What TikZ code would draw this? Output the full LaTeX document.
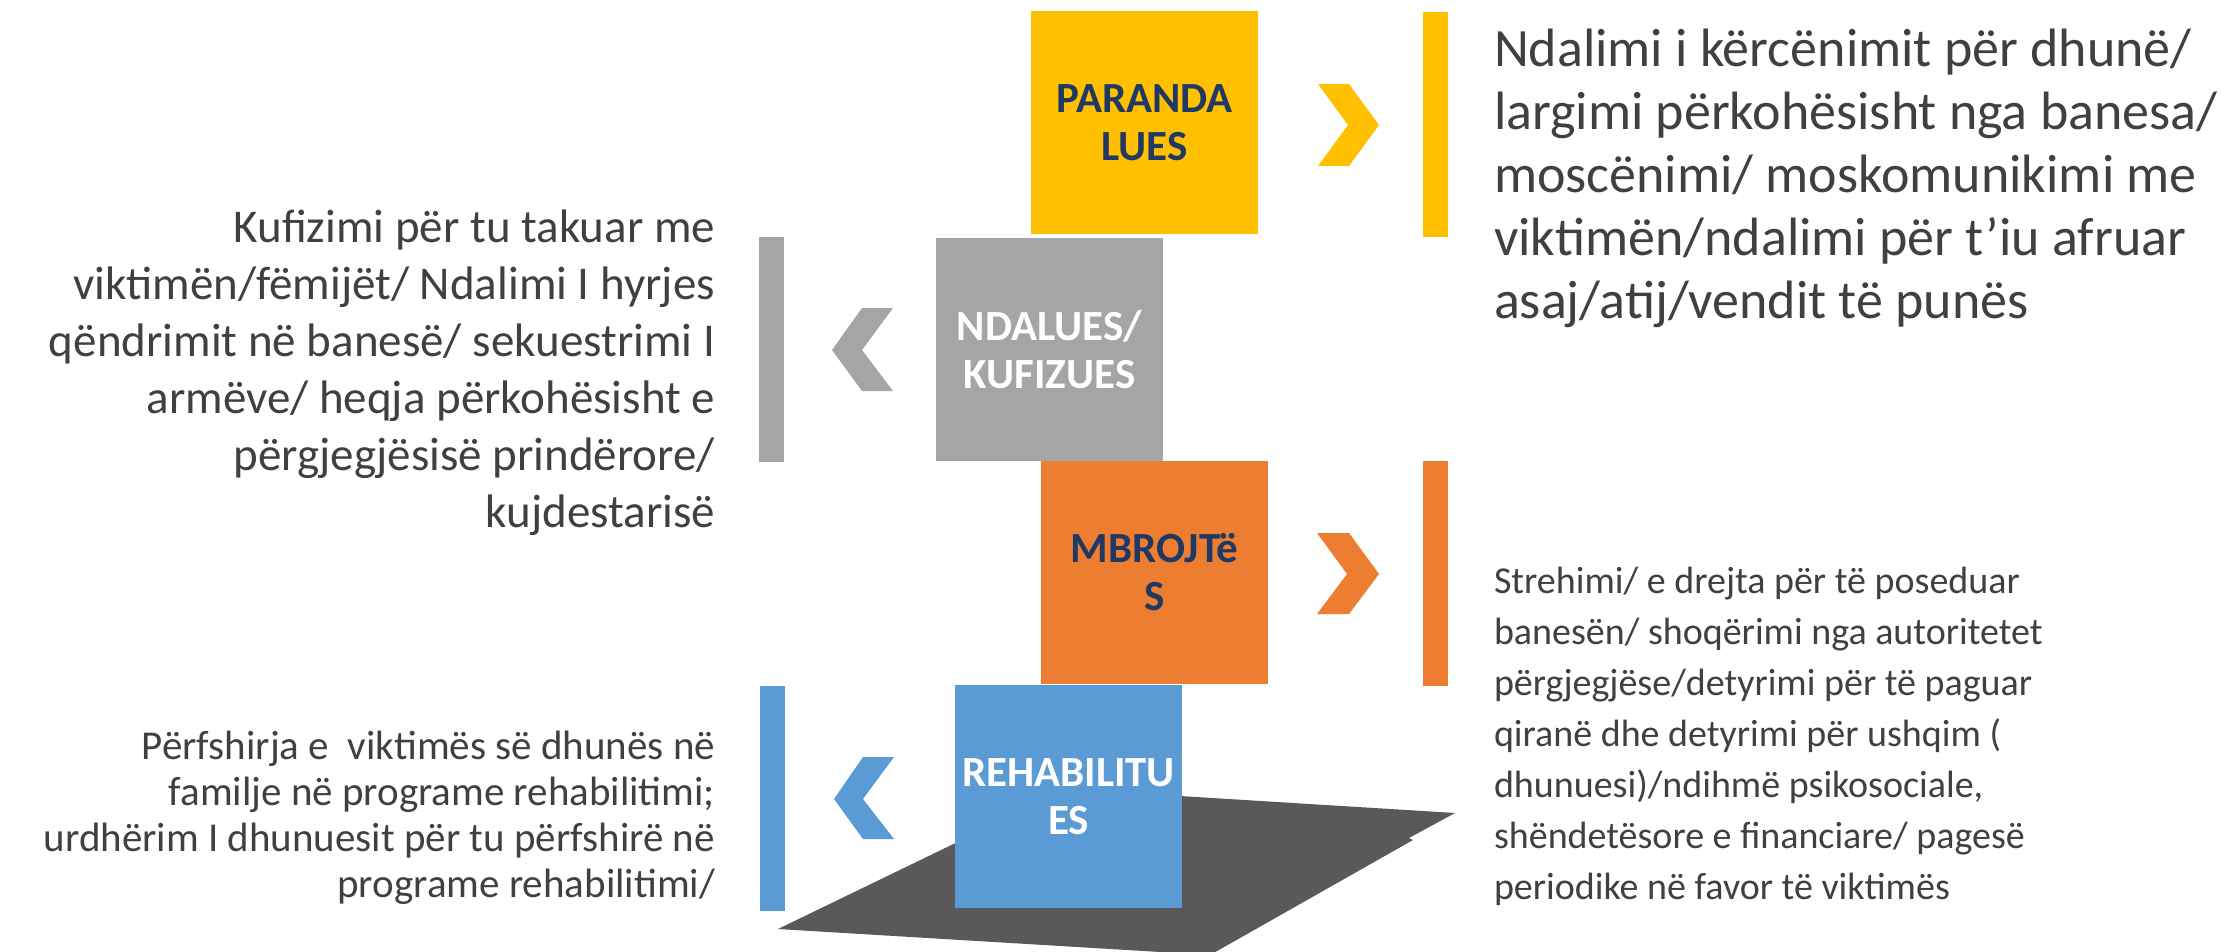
\documentclass[tikz,border=0pt]{standalone}
\usepackage{fontspec}
\setmainfont{Carlito}
\definecolor{cyellow}{HTML}{FFC000}
\definecolor{cgray}{HTML}{A5A5A5}
\definecolor{corange}{HTML}{ED7D31}
\definecolor{cblue}{HTML}{5B9BD5}
\definecolor{cdark}{HTML}{595959}
\definecolor{ctext}{HTML}{404040}
\definecolor{cnavy}{HTML}{203864}
\begin{document}
\begin{tikzpicture}[x=1pt,y=-1pt,
  box/.style={inner sep=0pt, outer sep=0pt, anchor=north west, align=center,
    minimum width=227pt, minimum height=223pt,
    font=\fontsize{43}{48}\selectfont\bfseries},
  bar/.style={inner sep=0pt, outer sep=0pt, anchor=north west,
    minimum width=25pt, minimum height=225pt},
  body/.style={inner sep=0pt, outer sep=0pt, text=ctext}]
\useasboundingbox (0,0) rectangle (2221,951);
\fill[white] (0,0) rectangle (2221,951);
% floor
\fill[cdark] (778,929) -- (1067,789) -- (1455,813) -- (1409,838) -- (1413,840) -- (1210,955) -- cycle;
% boxes
\node[box, fill=cyellow, text=cnavy] (prev) at (1031,11) {PARANDA\\LUES};
\node[box, fill=cgray, text=white] (stop) at (936,238) {NDALUES/\\KUFIZUES};
\node[box, fill=corange, text=cnavy] (prot) at (1041,461) {MBROJTë\\S};
\node[box, fill=cblue, text=white] (reha) at (955,685) {REHABILITU\\ES};
% bars
\node[bar, fill=cyellow] (bprev) at (1423,12) {};
\node[bar, fill=cgray] (bstop) at (759,237) {};
\node[bar, fill=corange] (bprot) at (1423,461) {};
\node[bar, fill=cblue] (breha) at (760,686) {};
% chevrons
\fill[cyellow] (1318,84) -- (1349,84) -- (1379,125) -- (1349,166) -- (1318,166) -- (1348,125) -- cycle;
\fill[corange] (1317,533) -- (1349,533) -- (1379,574) -- (1349,614) -- (1317,614) -- (1347,574) -- cycle;
\fill[cgray] (893,308) -- (862,308) -- (832,350) -- (862,391) -- (893,391) -- (862,350) -- cycle;
\fill[cblue] (894,757) -- (863,757) -- (834,799) -- (863,839) -- (894,839) -- (863,799) -- cycle;
% texts
\node[body, anchor=west, align=left, font=\fontsize{54}{63}\selectfont] (tprev) at (1494,178)
  {Ndalimi i kërcënimit për dhunë/\\largimi përkohësisht nga banesa/\\moscënimi/ moskomunikimi me\\viktimën/ndalimi për t’iu afruar\\asaj/atij/vendit të punës};
\node[body, anchor=east, align=right, font=\fontsize{47}{57}\selectfont] (tstop) at (715,373)
  {Kufizimi për tu takuar me\\viktimën/fëmijët/ Ndalimi I hyrjes\\qëndrimit në banesë/ sekuestrimi I\\armëve/ heqja përkohësisht e\\përgjegjësisë prindërore/\\kujdestarisë};
\node[body, anchor=west, align=left, font=\fontsize{38}{51}\selectfont] (tprot) at (1494,736)
  {Strehimi/ e drejta për të poseduar\\banesën/ shoqërimi nga autoritetet\\përgjegjëse/detyrimi për të paguar\\qiranë dhe detyrimi për ushqim (\\dhunuesi)/ndihmë psikosociale,\\shëndetësore e financiare/ pagesë\\periodike në favor të viktimës};
\node[body, anchor=east, align=right, font=\fontsize{41}{46}\selectfont] (treha) at (715,818)
  {Përfshirja e~ viktimës së dhunës në\\familje në programe rehabilitimi;\\urdhërim I dhunuesit për tu përfshirë në\\programe rehabilitimi/};
\end{tikzpicture}
\end{document}
